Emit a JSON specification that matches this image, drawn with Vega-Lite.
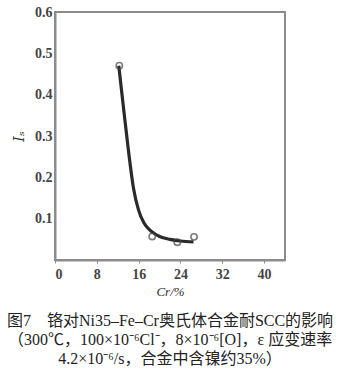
{
  "$schema": "https://vega.github.io/schema/vega-lite/v6.json",
  "autosize": {"type": "none"},
  "width": 230,
  "height": 248,
  "padding": {"left": 55, "top": 12, "right": 68, "bottom": 126},
  "background": "white",
  "config": {
    "font": "Liberation Serif, Noto Sans CJK SC",
    "view": {"stroke": "#8c8c8c", "strokeWidth": 2},
    "axis": {"grid": false, "domainColor": "#8c8c8c", "domainWidth": 2, "tickColor": "#8c8c8c", "labelFont": "Liberation Serif", "labelFontSize": 14, "labelFontWeight": "bold", "labelColor": "#444", "titleFont": "Liberation Serif", "titleColor": "#333", "titleFontWeight": "normal"}
  },
  "title": {
    "text": ["图7　铬对Ni35–Fe–Cr奥氏体合金耐SCC的影响", "（300℃，100×10⁻⁶Cl⁻，8×10⁻⁶[O]，ε 应变速率", "4.2×10⁻⁶/s，合金中含镍约35%）"],
    "orient": "bottom",
    "anchor": "middle",
    "fontSize": 16,
    "fontWeight": "normal",
    "color": "#222",
    "lineHeight": 19,
    "offset": 15,
    "font": "Liberation Serif, Noto Sans CJK SC"
  },
  "datasets": {
    "curve": [
      {"cr": 12.2, "is": 0.47},
      {"cr": 13, "is": 0.38},
      {"cr": 14, "is": 0.27},
      {"cr": 15, "is": 0.175},
      {"cr": 16, "is": 0.12},
      {"cr": 17, "is": 0.09},
      {"cr": 18, "is": 0.074},
      {"cr": 19, "is": 0.064},
      {"cr": 20, "is": 0.057},
      {"cr": 22, "is": 0.05},
      {"cr": 24, "is": 0.046},
      {"cr": 26.5, "is": 0.044}
    ],
    "pts": [
      {"cr": 12.3, "is": 0.47},
      {"cr": 18.6, "is": 0.057},
      {"cr": 23.4, "is": 0.043},
      {"cr": 26.6, "is": 0.056}
    ]
  },
  "layer": [
    {
      "data": {"name": "curve"},
      "mark": {"type": "line", "interpolate": "monotone", "color": "#2a2a2a", "strokeWidth": 3.2},
      "encoding": {
        "x": {"field": "cr", "type": "quantitative", "scale": {"domain": [0, 44], "nice": false},
          "axis": {"values": [0, 4, 8, 12, 16, 20, 24, 28, 32, 36, 40, 44], "labelExpr": "datum.value % 8 == 0 && datum.value < 44 ? datum.label : ''", "tickSize": 3, "labelPadding": 4, "title": "Cr/%", "titleFontSize": 13, "titleFontStyle": "italic", "titlePadding": 4}},
        "y": {"field": "is", "type": "quantitative", "scale": {"domain": [0, 0.6], "nice": false},
          "axis": {"values": [0.1, 0.2, 0.3, 0.4, 0.5, 0.6], "format": ".1f", "tickSize": 0, "labelPadding": 3, "title": "Iₛ", "titleFont": "DejaVu Serif", "titleFontSize": 14, "titleFontStyle": "italic", "titlePadding": 8}}
      }
    },
    {
      "data": {"name": "pts"},
      "mark": {"type": "point", "shape": "circle", "filled": false, "size": 40, "stroke": "#444", "strokeWidth": 1.6},
      "encoding": {
        "x": {"field": "cr", "type": "quantitative"},
        "y": {"field": "is", "type": "quantitative"}
      }
    }
  ]
}
